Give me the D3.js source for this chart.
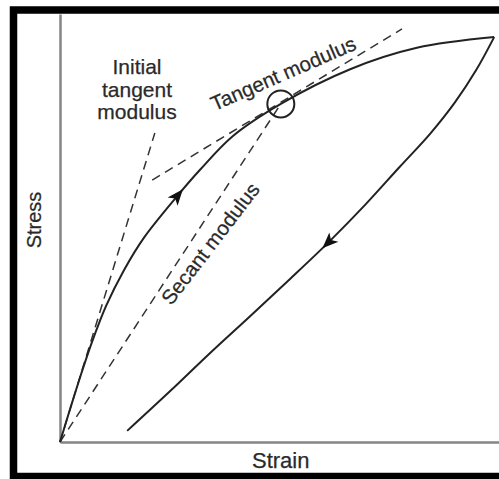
<!DOCTYPE html>
<meta charset="utf-8">
<html lang="en">
  <head>
    <style>
      body { margin: 0; background-color: #fff; }
      .axis .domain { stroke: #858585; stroke-width: 2.5px; }
      .curve { fill: none; stroke: #222; stroke-width: 2px; }
      .dashed { fill: none; stroke: #333; stroke-width: 1.5px; stroke-dasharray: 9,6; }
      .label { fill: #2a2a2a; stroke: #2a2a2a; stroke-width: 0.25px; font-family: "Liberation Sans", Arial, Helvetica, sans-serif; }
    </style>
  </head>
  <body>
    <script src="https://cdn.jsdelivr.net/npm/d3@7"></script>
    <svg></svg>
    <script>

      // loading branch (origin -> peak)
      var loadStrain = [0, 2.3, 4.6, 7.3, 10.5, 14.6, 19.1, 26.9, 31.9, 39.4, 50.3, 66.1, 81.3, 98.9];
      var loadStress = [0, 7.7, 15.2, 23.4, 31.8, 40.2, 47.7, 57.7, 63.6, 71.5, 79.0, 87.1, 92.1, 94.6];

      // unloading branch (peak -> residual strain)
      var unloadStrain = [98.9, 94.8, 90.0, 84.3, 77.4, 69.5, 61.5, 52.4, 43.3, 34.2, 25.1, 15.3];
      var unloadStress = [94.6, 86.9, 79.4, 72.0, 64.3, 55.4, 47.0, 38.1, 29.4, 20.8, 11.9, 2.6];

      // construction lines
      var initialTangentStrain = [0, 21.6];
      var initialTangentStress = [0, 72.2];
      var tangentStrain = [21.0, 77.9];
      var tangentStress = [61.2, 96.5];
      var tangentPoint = [50.3, 79.0];
      var secantStrain = [0, tangentPoint[0]];
      var secantStress = [0, tangentPoint[1]];

      // direction arrows (where the head tip sits)
      var loadArrow = [28.0, 59.1];
      var unloadArrow = [59.7, 45.3];

      var width = 499, height = 479;

      var svg = d3.select("svg")
        .attr("width", width)
        .attr("height", height);

      var x = d3.scaleLinear().domain([0, 100]).range([60, 499]);
      var y = d3.scaleLinear().domain([0, 100]).range([442, 14]);

      function pts(xs, ys) {
        return xs.map(function(d, i) { return [d, ys[i]]; });
      }

      var line = d3.line()
        .x(function(d) { return x(d[0]); })
        .y(function(d) { return y(d[1]); })
        .curve(d3.curveCatmullRom.alpha(0.5));

      var straight = d3.line()
        .x(function(d) { return x(d[0]); })
        .y(function(d) { return y(d[1]); });

      // frame
      svg.append("rect")
        .attr("x", 13.5).attr("y", 10)
        .attr("width", 600).attr("height", 466.5)
        .attr("fill", "none")
        .attr("stroke", "#000")
        .attr("stroke-width", 7.5);

      // axes, no ticks
      svg.append("g").attr("class", "axis")
        .attr("transform", "translate(0," + y(0) + ")")
        .call(d3.axisBottom(x).tickValues([]).tickSizeOuter(0));
      svg.append("g").attr("class", "axis")
        .attr("transform", "translate(" + x(0) + ",0)")
        .call(d3.axisLeft(y).tickValues([]).tickSizeOuter(0));

      // dashed construction lines
      [[initialTangentStrain, initialTangentStress],
       [tangentStrain, tangentStress],
       [secantStrain, secantStress]].forEach(function(l) {
        svg.append("path").attr("class", "dashed").attr("d", straight(pts(l[0], l[1])));
      });

      var loadPath = svg.append("path").attr("class", "curve")
        .attr("d", line(pts(loadStrain, loadStress)));
      var unloadPath = svg.append("path").attr("class", "curve")
        .attr("d", line(pts(unloadStrain, unloadStress)));

      svg.append("circle")
        .attr("cx", x(tangentPoint[0]))
        .attr("cy", y(tangentPoint[1]))
        .attr("r", 13.5)
        .attr("fill", "none")
        .attr("stroke", "#222")
        .attr("stroke-width", 2);

      function arrowOn(path, target) {
        var node = path.node(), total = node.getTotalLength();
        var tx = x(target[0]), ty = y(target[1]);
        var best = 0, bestD = Infinity;
        for (var l = 0; l <= total; l += 0.5) {
          var p = node.getPointAtLength(l);
          var dd = (p.x - tx) * (p.x - tx) + (p.y - ty) * (p.y - ty);
          if (dd < bestD) { bestD = dd; best = l; }
        }
        var p1 = node.getPointAtLength(best), p0 = node.getPointAtLength(Math.max(0, best - 4));
        var ang = Math.atan2(p1.y - p0.y, p1.x - p0.x) * 180 / Math.PI;
        svg.append("path")
          .attr("d", "M0,0L-16,-6.5L-12,0L-16,6.5Z")
          .attr("fill", "#111")
          .attr("transform", "translate(" + p1.x + "," + p1.y + ") rotate(" + ang + ")");
      }
      arrowOn(loadPath, loadArrow);
      arrowOn(unloadPath, unloadArrow);

      // labels
      var init = svg.append("text").attr("class", "label")
        .attr("text-anchor", "middle").style("font-size", "21px");
      ["Initial", "tangent", "modulus"].forEach(function(t, i) {
        init.append("tspan").attr("x", 137).attr("y", 74 + i * 22.5).text(t);
      });

      svg.append("text").attr("class", "label")
        .attr("text-anchor", "middle").style("font-size", "20.5px")
        .attr("transform", "translate(286,80) rotate(-23.5)")
        .text("Tangent modulus");

      svg.append("text").attr("class", "label")
        .attr("text-anchor", "middle").style("font-size", "20.5px")
        .attr("transform", "translate(216,248) rotate(-52.5)")
        .text("Secant modulus");

      svg.append("text").attr("class", "label")
        .attr("text-anchor", "middle").style("font-size", "20px")
        .attr("transform", "translate(41,220) rotate(-90)")
        .text("Stress");

      svg.append("text").attr("class", "label")
        .attr("x", 252).attr("y", 468).style("font-size", "22px")
        .text("Strain");

    </script>
  </body>
</html>
